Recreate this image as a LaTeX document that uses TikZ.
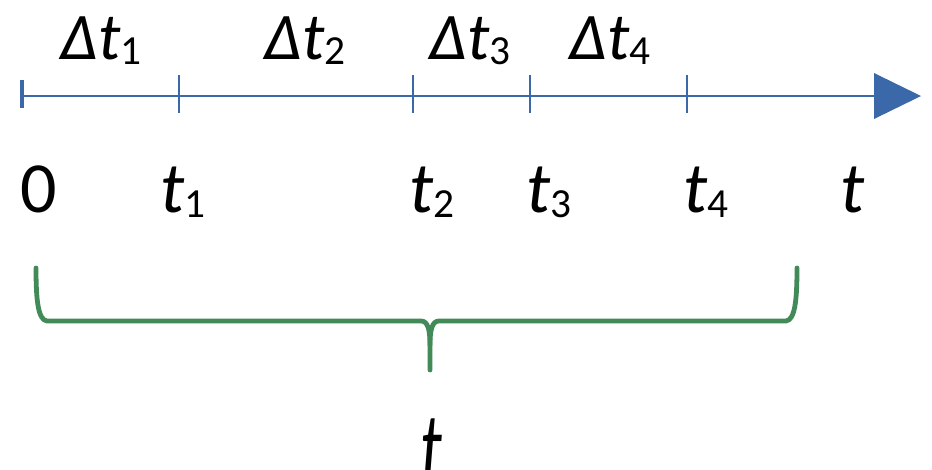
\documentclass[tikz,border=0pt]{standalone}
\usepackage{fontspec}
\setmainfont{Carlito}
\definecolor{axisblue}{HTML}{3A68A8}
\definecolor{bracegreen}{HTML}{428A58}
\newcommand{\lbl}[2]{\textit{#1}\raisebox{-0.08em}{\fontsize{31}{31}\selectfont #2}}
\begin{document}
\begin{tikzpicture}[x=0.75pt,y=-0.75pt,
  axis/.style={draw=axisblue,line width=0.9pt},
  tickmark/.style={draw=axisblue,line width=0.8pt},
  toplbl/.style={anchor=base,inner sep=0pt,font=\fontsize{50}{50}\selectfont},
  botlbl/.style={anchor=base west,inner sep=0pt,font=\fontsize{54}{54}\selectfont},
  brace/.style={draw=bracegreen,line width=3.6pt,line cap=round,line join=round}]
\useasboundingbox (0,0) rectangle (932,469);
% axis
\coordinate (o) at (22,96);
\coordinate (e) at (876,96);
\draw[axis] (o) -- (e);
\fill[axisblue] (874,73) -- (921,96) -- (874,119) -- cycle;
\draw[draw=axisblue,line width=3pt] (22,80) -- (22,108);
\foreach \x in {179,413,530,687} \draw[tickmark] (\x,75) -- (\x,113);
% top labels
\node[toplbl] (d1) at (101,59) {\lbl{Δt}{1}};
\node[toplbl] (d2) at (305,59) {\lbl{Δt}{2}};
\node[toplbl] (d3) at (470,59) {\lbl{Δt}{3}};
\node[toplbl] (d4) at (610,59) {\lbl{Δt}{4}};
% bottom labels
\node[botlbl] (l0) at (20,212) {0};
\node[botlbl] (l1) at (160,212) {\lbl{t}{1}};
\node[botlbl] (l2) at (409,212) {\lbl{t}{2}};
\node[botlbl] (l3) at (526,212) {\lbl{t}{3}};
\node[botlbl] (l4) at (683,212) {\lbl{t}{4}};
\node[botlbl] (lt) at (840,212) {\textit{t}};
% brace
\draw[brace] (36,268) .. controls (36,300) and (38,320) .. (47,321) -- (421,321) .. controls (428,321) and (430,330) .. (430,345) -- (430,370);
\draw[brace] (797,268) .. controls (797,300) and (795,320) .. (786,321) -- (439,321) .. controls (432,321) and (430,330) .. (430,345);
\node[anchor=base,inner sep=0pt,font=\fontsize{54}{54}\selectfont] (T) at (431,482) {\scalebox{0.9}[1.4]{\textit{t}}};
\end{tikzpicture}
\end{document}
